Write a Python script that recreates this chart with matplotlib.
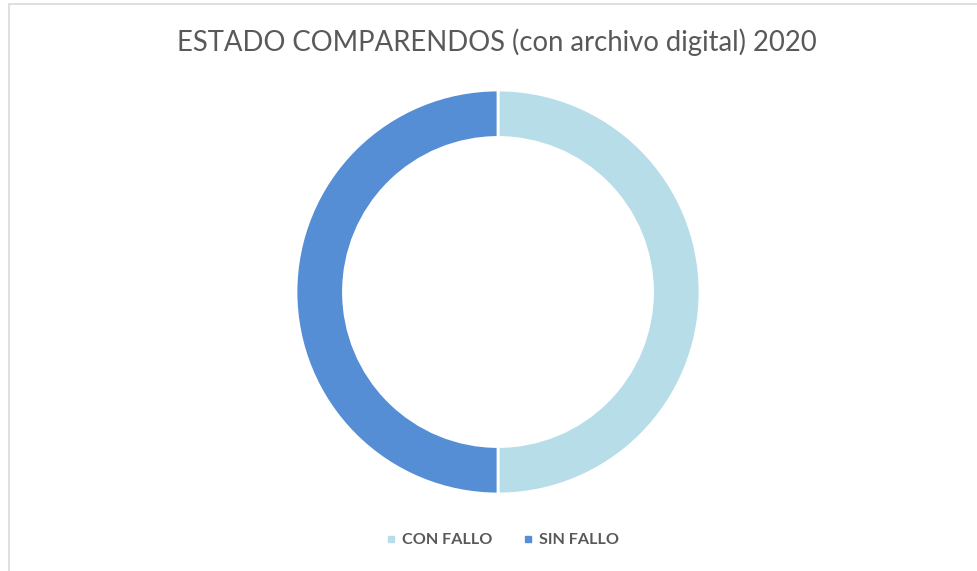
import matplotlib
matplotlib.use("Agg")
import matplotlib.pyplot as plt
from matplotlib.patches import Rectangle
from matplotlib.lines import Line2D

title = "ESTADO COMPARENDOS (con archivo digital) 2020"
categories = ["CON FALLO", "SIN FALLO"]
values = [50, 50]
colors = ["#B7DDE8", "#558ED5"]

W, H = 978, 571
fig = plt.figure(figsize=(W / 100, H / 100), dpi=100)
fig.patch.set_facecolor("white")

# grey chart-area border (only top and left edges visible in the crop)
fig.patches.append(Rectangle((8.5 / W, -0.05), 1.1, (H - 4.5) / H + 0.05,
                             transform=fig.transFigure, fill=False,
                             edgecolor="#D9D9D9", linewidth=1.2))

# donut
cx, cy, r = 498, 292, 202
ax = fig.add_axes([(cx - r) / W, (H - cy - r) / H, 2 * r / W, 2 * r / H])
ax.pie(values, colors=colors, startangle=90, counterclock=False,
       wedgeprops=dict(width=0.235, edgecolor="white", linewidth=2))
ax.set_xlim(-1, 1)
ax.set_ylim(-1, 1)
ax.set_aspect("equal")
ax.axis("off")

fig.text(497 / W, 1 - 42 / H, title, ha="center", va="center",
         fontsize=19.8, color="#595959", family="Lato")

handles = [Line2D([], [], marker="s", linestyle="none", markersize=4,
                  markerfacecolor=c, markeredgecolor=c) for c in colors]
fig.legend(handles, categories, loc="center", bbox_to_anchor=(502 / W, 1 - 540 / H),
           ncol=2, frameon=False, labelcolor="#595959",
           handletextpad=0.3, columnspacing=1.8, handlelength=0.8,
           prop=dict(family="Lato", size=11.6, weight="bold"))

fig.savefig("out.png", dpi=100, facecolor="white")
